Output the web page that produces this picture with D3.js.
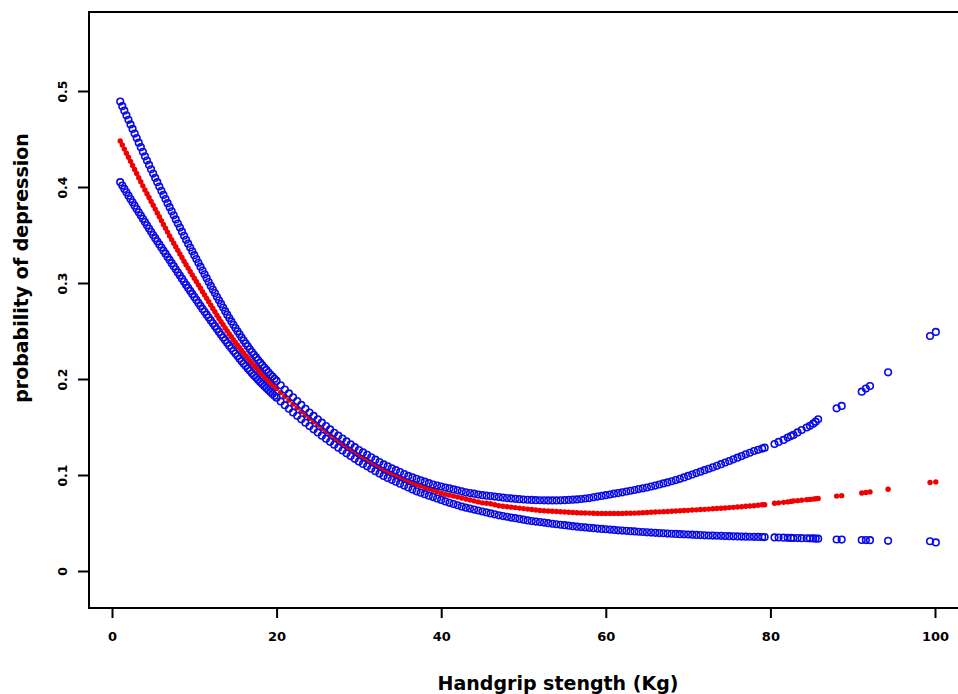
<!DOCTYPE html>
<html>
<head>
<meta charset="utf-8">
<script src="https://cdn.jsdelivr.net/npm/d3@7"></script>
<style>
  body { margin: 0; background: #fff; }
  text { font-family: "DejaVu Sans", Verdana, sans-serif; font-weight: bold; fill: #000; }
</style>
</head>
<body>
<div id="chart"></div>
<script>
// handgrip strength (Kg) of each plotted point
const grip = [
  1, 1.25, 1.5, 1.75, 2, 2.25, 2.5, 2.75, 3, 3.25, 3.5, 3.75, 4, 4.25, 4.5, 4.75,
  5, 5.25, 5.5, 5.75, 6, 6.25, 6.5, 6.75, 7, 7.25, 7.5, 7.75, 8, 8.25, 8.5, 8.75,
  9, 9.25, 9.5, 9.75, 10, 10.25, 10.5, 10.75, 11, 11.25, 11.5, 11.75, 12, 12.25, 12.5, 12.75,
  13, 13.25, 13.5, 13.75, 14, 14.25, 14.5, 14.75, 15, 15.25, 15.5, 15.75, 16, 16.25, 16.5, 16.75,
  17, 17.25, 17.5, 17.75, 18, 18.25, 18.5, 18.75, 19, 19.25, 19.5, 19.75, 20,
  20.5, 21, 21.5, 22, 22.5, 23, 23.5, 24, 24.5, 25, 25.5, 26, 26.5, 27, 27.5, 28, 28.5, 29, 29.5, 30,
  30.5, 31, 31.5, 32, 32.5, 33, 33.5, 34, 34.5, 35, 35.5, 36, 36.5, 37, 37.5, 38, 38.5, 39, 39.5, 40,
  40.5, 41, 41.5, 42, 42.5, 43, 43.5, 44, 44.5, 45, 45.5, 46, 46.5, 47, 47.5, 48, 48.5, 49, 49.5, 50,
  50.5, 51, 51.5, 52, 52.5, 53, 53.5, 54, 54.5, 55, 55.5, 56, 56.5, 57, 57.5, 58, 58.5, 59, 59.5, 60,
  60.5, 61, 61.5, 62, 62.5, 63, 63.5, 64, 64.5, 65, 65.5, 66, 66.5, 67, 67.5, 68, 68.5, 69, 69.5, 70,
  70.5, 71, 71.5, 72, 72.5, 73, 73.5, 74, 74.5, 75, 75.5, 76, 76.5, 77, 77.5, 78, 78.5, 79,
  79.3, 80.5, 81.0, 81.6, 82.1, 82.5, 82.8, 83.3, 83.8, 84.4, 84.8, 85.2, 85.5, 85.8,
  88.05, 88.66, 91.1, 91.6, 92.1, 94.3, 99.4, 100.1
];

// predicted probability of depression
const estimate = [
  .448, .4437, .4395, .4352, .431, .4267, .4225, .4182, .414, .4097, .4055, .4012, .397, .393, .389, .385,
  .381, .377, .373, .369, .365, .361, .357, .353, .349, .3452, .3415, .3377, .334, .3302, .3265, .3227,
  .319, .3155, .312, .3085, .305, .3015, .298, .2945, .291, .2875, .284, .2805, .277, .2735, .270, .2665,
  .263, .2597, .2565, .2532, .250, .247, .244, .241, .238, .2352, .2325, .2297, .227, .2244, .2218, .2191,
  .2165, .2141, .2118, .2094, .207, .2047, .2025, .2002, .198, .196, .194, .192, .190,
  .186, .182, .178, .174, .170, .166, .1625, .159, .1555, .152, .1485, .145, .1415, .138, .135, .132, .129, .126, .123, .120,
  .1175, .115, .1125, .110, .1075, .105, .103, .101, .099, .097, .095, .093, .0915, .090, .0885, .087, .0855, .084, .0825, .081,
  .080, .079, .078, .077, .076, .075, .074, .073, .072, .071, .0705, .070, .069, .068, .0675, .067, .0665, .066, .0655, .065,
  .0645, .064, .0635, .063, .0628, .0625, .0622, .062, .0617, .0615, .0612, .061, .0607, .0605, .0604, .0603, .0601, .060, .060, .060,
  .060, .060, .060, .060, .0601, .0602, .0603, .0605, .0607, .061, .0612, .0614, .0616, .0618, .062, .0622, .0625, .0627, .063, .0632,
  .0635, .0637, .064, .0642, .0645, .0648, .0651, .0654, .0657, .066, .0663, .0666, .067, .0675, .0677, .068, .0685, .069,
  .069, .0705, .071, .0715, .072, .0725, .073, .0733, .0738, .0743, .0746, .0749, .0752, .0755,
  .078, .0785, .0812, .0818, .0824, .0851, .0922, .0928
];

// upper 95% confidence limit
const upper = [
  .489, .4842, .4795, .4747, .470, .4652, .4605, .4557, .451, .4462, .4415, .4367, .432, .4275, .423, .4185,
  .414, .4095, .405, .4005, .396, .3917, .3875, .3832, .379, .3747, .3705, .3662, .362, .3577, .3535, .3492,
  .345, .341, .337, .333, .329, .325, .321, .317, .313, .309, .305, .301, .297, .2932, .2895, .2857,
  .282, .2782, .2745, .2707, .267, .2635, .260, .2565, .253, .2497, .2465, .2432, .240, .237, .234, .231,
  .228, .2252, .2225, .2197, .217, .2145, .212, .2095, .207, .2047, .2025, .2002, .198,
  .1935, .189, .185, .181, .177, .173, .169, .165, .1615, .158, .1545, .151, .1475, .144, .141, .138, .135, .132, .129, .126,
  .1235, .121, .1185, .116, .1135, .111, .109, .107, .105, .103, .101, .099, .0975, .096, .0945, .093, .0915, .090, .089, .088,
  .087, .086, .085, .084, .083, .082, .0812, .0805, .0797, .079, .0785, .078, .0775, .077, .0765, .076, .0756, .0752, .0748, .0745,
  .0742, .074, .0738, .0737, .0736, .0735, .0735, .0735, .0736, .0738, .074, .0743, .0746, .075, .0755, .076, .0767, .0775, .0782, .079,
  .0797, .0805, .0812, .082, .0828, .0836, .0844, .0853, .0861, .087, .088, .089, .0901, .0912, .0923, .0935, .0947, .096, .0975, .099,
  .1005, .102, .1035, .105, .1065, .108, .1096, .1113, .113, .1146, .1163, .118, .1197, .1215, .1232, .125, .1262, .1275,
  .1285, .1323, .1345, .1365, .139, .1405, .1417, .1443, .1469, .1495, .1512, .1535, .1555, .158,
  .1695, .172, .1868, .190, .1927, .207, .2448, .249
];

// lower 95% confidence limit
const lower = [
  .405, .4015, .398, .3945, .391, .3875, .384, .3805, .377, .3736, .3702, .3669, .3635, .3601, .3567, .3534,
  .350, .3467, .3435, .3402, .337, .3337, .3305, .3272, .324, .3207, .3175, .3142, .311, .3077, .3045, .3012,
  .298, .2949, .2917, .2886, .2855, .2824, .2792, .2761, .273, .270, .267, .264, .261, .258, .255, .252,
  .249, .2461, .2432, .2404, .2375, .2347, .232, .2292, .2265, .2239, .2212, .2186, .216, .2135, .211, .2085,
  .206, .2037, .2015, .1992, .197, .1949, .1927, .1906, .1885, .1865, .1845, .1825, .1805,
  .1766, .1727, .169, .1652, .1616, .158, .1545, .151, .1476, .1443, .141, .1378, .1346, .1315, .1285, .1255, .1226, .1197, .1168, .114,
  .1115, .109, .1065, .104, .1015, .099, .097, .095, .093, .091, .089, .087, .085, .083, .0815, .080, .0785, .077, .0755, .074,
  .0725, .071, .0697, .0685, .0672, .066, .065, .064, .063, .062, .061, .060, .059, .058, .0572, .0565, .0557, .055, .0542, .0535,
  .0527, .052, .0515, .051, .0504, .0498, .0492, .0487, .0482, .0477, .0472, .0467, .0462, .0458, .0454, .045, .0446, .0442, .0438, .0435,
  .0431, .0428, .0424, .0421, .0418, .0415, .0412, .0409, .0406, .0403, .04, .0398, .0395, .0393, .039, .0388, .0386, .0384, .0382, .038,
  .0378, .0376, .0374, .0372, .037, .0369, .0367, .0366, .0364, .0363, .0361, .036, .0359, .0358, .0357, .0356, .0355, .0354,
  .0353, .035, .0349, .0347, .0346, .0345, .0344, .0343, .0342, .0341, .034, .0339, .0338, .0337,
  .0328, .0327, .0323, .0322, .0321, .0314, .031, .0298
];

const xTicks = [0, 20, 40, 60, 80, 100];
const yTicks = [0, 0.1, 0.2, 0.3, 0.4, 0.5];
const yTickLabels = ["0", "0.1", "0.2", "0.3", "0.4", "0.5"];

const width = 958, height = 694;
const box = { left: 89, top: 12, right: 968, bottom: 608 };

const svg = d3.select("#chart")
    .append("svg")
    .attr("width", width)
    .attr("height", height);

const x = d3.scaleLinear().domain([0, 100]).range([112, 935]);
const y = d3.scaleLinear().domain([0, 0.5]).range([571, 91]);

const points = grip.map((g, i) => ({ g, est: estimate[i], up: upper[i], lo: lower[i] }));

// estimate first, confidence limits on top (open circles)
svg.append("g")
    .selectAll("circle")
    .data(points)
    .enter()
    .append("circle")
    .attr("cx", d => x(d.g))
    .attr("cy", d => y(d.est))
    .attr("r", 2.7)
    .attr("fill", "#f00000");

["up", "lo"].forEach(key => {
    svg.append("g")
        .selectAll("circle")
        .data(points)
        .enter()
        .append("circle")
        .attr("cx", d => x(d.g))
        .attr("cy", d => y(d[key]))
        .attr("r", 3.3)
        .attr("fill", "none")
        .attr("stroke", "#0a0ae6")
        .attr("stroke-width", 1.6);
});

// plot frame
svg.append("rect")
    .attr("x", box.left)
    .attr("y", box.top)
    .attr("width", box.right - box.left)
    .attr("height", box.bottom - box.top)
    .attr("fill", "none")
    .attr("stroke", "#000")
    .attr("stroke-width", 2);

// x axis
const xAxis = svg.append("g")
    .attr("transform", `translate(0,${box.bottom})`)
    .call(d3.axisBottom(x).tickValues(xTicks).tickSize(10).tickPadding(14).tickFormat(d3.format("d")));
xAxis.select(".domain").remove();
xAxis.selectAll(".tick line").attr("stroke", "#000").attr("stroke-width", 2);
xAxis.selectAll(".tick text")
    .style("font-family", "DejaVu Sans, sans-serif")
    .style("font-weight", "bold")
    .style("font-size", "13px");

// y axis, labels rotated as in R
const yAxis = svg.append("g")
    .attr("transform", `translate(${box.left},0)`)
    .call(d3.axisLeft(y).tickValues(yTicks).tickSize(11).tickFormat((d, i) => yTickLabels[i]));
yAxis.select(".domain").remove();
yAxis.selectAll(".tick line").attr("stroke", "#000").attr("stroke-width", 2);
yAxis.selectAll(".tick text")
    .attr("x", null)
    .attr("dy", null)
    .attr("text-anchor", "middle")
    .attr("transform", "translate(-22,0) rotate(-90)")
    .style("font-family", "DejaVu Sans, sans-serif")
    .style("font-weight", "bold")
    .style("font-size", "12.5px");

svg.append("text")
    .attr("x", 558)
    .attr("y", 690)
    .attr("text-anchor", "middle")
    .style("font-size", "19px")
    .text("Handgrip stength (Kg)");

svg.append("text")
    .attr("transform", "translate(28,268) rotate(-90)")
    .attr("text-anchor", "middle")
    .style("font-size", "19px")
    .text("probability of depression");
</script>
</body>
</html>
